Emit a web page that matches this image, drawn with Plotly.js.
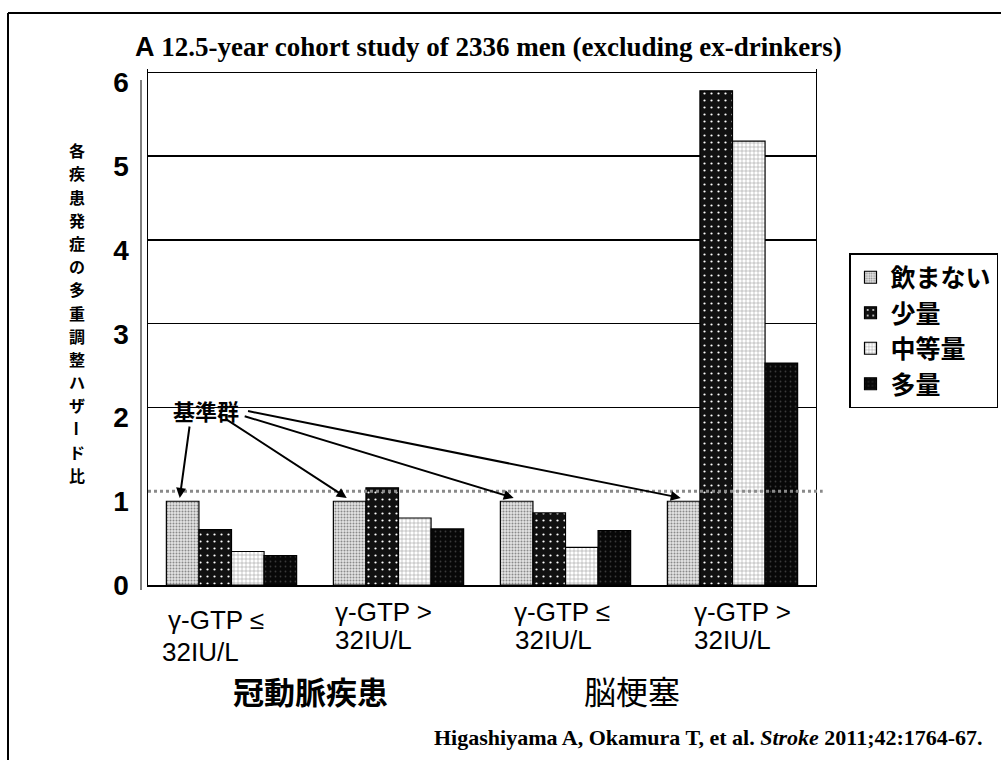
<!DOCTYPE html>
<html><head><meta charset="utf-8">
<script src="https://cdn.plot.ly/plotly-3.0.1.min.js"></script>
<style>body{margin:0;background:#fff}</style>
</head><body><div id="chart" style="width:1001px;height:760px"></div>
<script>
// ---- data ----
const groupIndex = [0, 1, 2, 3];
const tickLine1 = ['γ-GTP ≤', 'γ-GTP >', 'γ-GTP ≤', 'γ-GTP >'];
const tickLine2 = ['32IU/L', '32IU/L', '32IU/L', '32IU/L'];
const diseases = ['冠動脈疾患', '脳梗塞'];
const seriesNames = ['飲まない', '少量', '中等量', '多量'];
const nonDrinker = [1.0, 1.0, 1.0, 1.0];
const light = [0.66, 1.16, 0.86, 5.9];
const moderate = [0.40, 0.80, 0.45, 5.3];
const heavy = [0.35, 0.67, 0.65, 2.65];
const yTicks = [0, 1, 2, 3, 4, 5, 6];
const yTitle = '各疾患発症の多重調整ハザード比';
const refLabel = '基準群';
const titleText = '12.5-year cohort study of 2336 men (excluding ex-drinkers)';

// ---- geometry helpers (plot area in pixels) ----
const L = 148, R = 816, T = 69, B = 585, W = 1001, H = 760;
const px = x => (x - L) / (R - L);
const py = y => (B - y) / (B - T);

const styles = [
  {color: '#d8d8d8', pattern: {shape: '.', fgcolor: '#8a8a8a', bgcolor: '#e4e4e4', size: 3, solidity: 0.35}},
  {color: '#111', pattern: {shape: '.', fgcolor: '#ffffff', bgcolor: '#111111', size: 7, solidity: 0.08}},
  {color: '#f4f4f4', pattern: {shape: '+', fgcolor: '#9a9a9a', bgcolor: '#ffffff', size: 4, solidity: 0.25}},
  {color: '#0a0a0a', pattern: {shape: '.', fgcolor: '#3a3a3a', bgcolor: '#080808', size: 5, solidity: 0.1}}
];
const values = [nonDrinker, light, moderate, heavy];

const traces = values.map((v, i) => ({
  type: 'bar', x: groupIndex, y: v, name: seriesNames[i], legendgroup: 'g' + i,
  marker: {color: styles[i].color, pattern: styles[i].pattern, line: {color: '#000', width: 1.2}},
  hoverinfo: 'x+y'
}));
traces.push({type: 'scatter', x: [null], y: [null], yaxis: 'y2', showlegend: false, hoverinfo: 'skip'});

const ann = [];
const sans = 'Liberation Sans, Arial, sans-serif';
const cjk = 'Noto Sans CJK JP, sans-serif';
const serif = 'Liberation Serif, Times New Roman, serif';

// title
ann.push({xref: 'paper', yref: 'paper', x: px(133), y: py(47), xanchor: 'left', yanchor: 'middle', showarrow: false,
  text: '<span style="font-family:Liberation Sans;font-weight:bold">A</span> <b>' + titleText + '</b>',
  font: {family: serif, size: 27, color: '#000'}});

// vertical y title, one character per position
const yChars = Array.from(yTitle);
const step = 23.2, mid = 312.5;
yChars.forEach((c, i) => {
  ann.push({xref: 'paper', yref: 'paper', x: px(77), y: py(mid + (i - (yChars.length - 1) / 2) * step),
    xanchor: 'center', yanchor: 'middle', borderpad: 0,
    showarrow: false, text: '<b>' + c + '</b>', textangle: c === 'ー' ? 90 : 0,
    font: {family: cjk, size: 16, color: '#000'}});
});

// x tick labels (two lines, left aligned)
const l1x = [166, 333, 512, 692], l1y = [620, 612, 612, 612];
const l2x = [160, 333, 513, 692], l2y = [652, 640, 640, 640];
groupIndex.forEach(g => {
  ann.push({xref: 'paper', yref: 'paper', x: px(l1x[g]), y: py(l1y[g]), xanchor: 'left', yanchor: 'middle', showarrow: false,
    text: tickLine1[g], font: {family: sans, size: 26, color: '#000'}});
  ann.push({xref: 'paper', yref: 'paper', x: px(l2x[g]), y: py(l2y[g]), xanchor: 'left', yanchor: 'middle', showarrow: false,
    text: tickLine2[g], font: {family: sans, size: 26, color: '#000'}});
});

// disease labels
ann.push({xref: 'paper', yref: 'paper', x: px(310), y: py(690), xanchor: 'center', yanchor: 'middle', showarrow: false,
  text: '<b>' + diseases[0] + '</b>', font: {family: cjk, size: 31, color: '#000'}});
ann.push({xref: 'paper', yref: 'paper', x: px(632), y: py(690), xanchor: 'center', yanchor: 'middle', showarrow: false,
  text: diseases[1], font: {family: cjk, size: 32, color: '#000'}});

// citation
ann.push({xref: 'paper', yref: 'paper', x: px(985), y: py(737), xanchor: 'right', yanchor: 'middle', showarrow: false,
  text: '<b>Higashiyama A, Okamura T, et al. <i>Stroke</i> 2011;42:1764-67.</b>',
  font: {family: serif, size: 22, color: '#000'}});

// reference-group label and arrows
ann.push({x: -0.15, y: 2.09, xref: 'x', yref: 'y', showarrow: false, text: '<b>' + refLabel + '</b>',
  font: {family: cjk, size: 22, color: '#000'}});
const tails = [[-0.25, 1.91], [-0.04, 1.99], [0.07, 2.02], [0.09, 2.08]];
groupIndex.forEach(g => {
  ann.push({x: g - 0.31, y: nonDrinker[g] + 0.04, xref: 'x', yref: 'y', axref: 'x', ayref: 'y',
    ax: tails[g][0], ay: tails[g][1], showarrow: true, arrowhead: 2, arrowsize: 1, arrowwidth: 2, arrowcolor: '#000', text: ''});
});

const shapes = [
  // reference line at 1 on the back wall
  {type: 'line', xref: 'paper', yref: 'y2', x0: 0, x1: 1.01, y0: 1, y1: 1, layer: 'above',
    line: {color: '#8a8a8a', width: 3, dash: 'dot'}},
  // outer frame (top and left)
  {type: 'line', xref: 'paper', yref: 'paper', x0: px(8), x1: px(1001), y0: py(13), y1: py(13), line: {color: '#000', width: 2}},
  {type: 'line', xref: 'paper', yref: 'paper', x0: px(8), x1: px(8), y0: py(13), y1: py(760), line: {color: '#000', width: 2}},
  // 3D left wall edge
  {type: 'line', xref: 'paper', yref: 'paper', x0: px(141), x1: px(141), y0: py(80), y1: py(590), line: {color: '#000', width: 1}}
];

const layout = {
  width: W, height: H,
  margin: {l: L, r: W - R, t: T, b: H - B, pad: 0, autoexpand: false},
  paper_bgcolor: '#fff', plot_bgcolor: '#fff',
  barmode: 'group', bargap: 0.22, bargroupgap: 0,
  showlegend: true,
  legend: {x: px(849), y: py(253), xanchor: 'left', yanchor: 'top', bordercolor: '#000', borderwidth: 1.5,
    bgcolor: '#fff', font: {family: cjk, size: 25, color: '#000', weight: 'bold'}, traceorder: 'grouped', tracegroupgap: 0,
    itemwidth: 30},
  xaxis: {range: [-0.5, 3.5], showticklabels: false, ticks: '', showgrid: false, zeroline: false,
    showline: true, linecolor: '#000', linewidth: 1.5, mirror: false, fixedrange: true},
  yaxis: {range: [0, 6.16], tickvals: yTicks, ticktext: yTicks.map(String), showgrid: false, zeroline: false,
    showline: true, linecolor: '#000', linewidth: 1.5, ticks: '', ticklabelstandoff: 12,
    tickfont: {family: sans, size: 28, color: '#000', weight: 'bold'}, fixedrange: true},
  yaxis2: {overlaying: 'y', range: [-0.12, 6.04], tickvals: [2, 3, 4, 5, 6], showticklabels: false, ticks: '',
    showgrid: true, gridcolor: '#000', gridwidth: 1.3, zeroline: false, showline: true, linecolor: '#000', linewidth: 1.3,
    side: 'right', fixedrange: true},
  annotations: ann,
  shapes: shapes
};

Plotly.newPlot('chart', traces, layout, {displayModeBar: false, staticPlot: true});
</script></body></html>
